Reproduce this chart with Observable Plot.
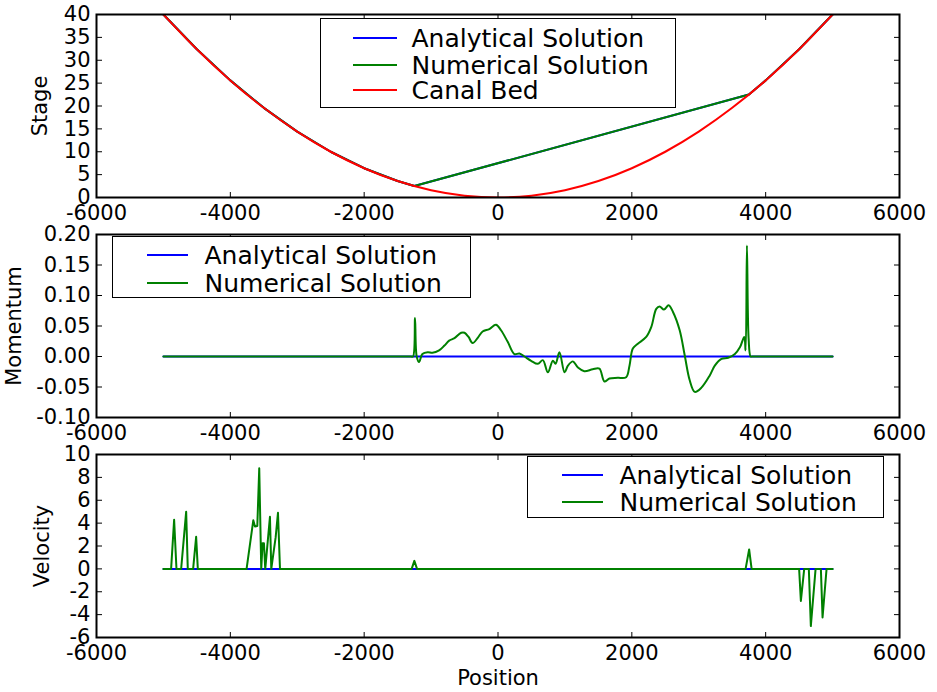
<!DOCTYPE html>
<html>
<head>
<meta charset="utf-8">
<script src="https://cdn.jsdelivr.net/npm/d3@7"></script>
<script src="https://cdn.jsdelivr.net/npm/@observablehq/plot@0.6"></script>
<style>
  html, body { margin: 0; padding: 0; background: white; }
  #chart { position: relative; width: 937px; height: 692px; font-family: "DejaVu Sans", sans-serif; }
  #chart svg { position: absolute; left: 0; overflow: visible; }
  .legend { position: absolute; border: 1.5px solid black; background: white; box-sizing: border-box; }
  .legend .row { position: absolute; height: 30px; display: flex; align-items: center; font-size: 25px; white-space: nowrap; color: black; }
  .legend .sw { position: absolute; height: 2px; }
</style>
</head>
<body>
<div id="chart"></div>
<script>
// ---------- data ----------
const seriesNames = ["Analytical Solution", "Numerical Solution", "Canal Bed"];
const seriesColors = ["#0000ff", "#008000", "#ff0000"];

const xTicks = [-6000, -4000, -2000, 0, 2000, 4000, 6000];
const stageTicks = [0, 5, 10, 15, 20, 25, 30, 35, 40];
const momTicks = [-0.10, -0.05, 0.00, 0.05, 0.10, 0.15, 0.20];
const velTicks = [-6, -4, -2, 0, 2, 4, 6, 8, 10];

// Canal bed
const bedX = [-5000,-4500,-4000,-3500,-3000,-2500,-2000,-1500,-1000,-500,0,500,1000,1500,2000,2500,3000,3500,4000,4500,5000];
const bedY = [40,32.4,25.6,19.6,14.4,10,6.4,3.6,1.6,0.4,0,0.4,1.6,3.6,6.4,10,14.4,19.6,25.6,32.4,40];

// Stage
const stageX   = [-5000,-4500,-4000,-3500,-3000,-2500,-2000,-1500,-1250,3750,4000,4500,5000];
const stageAna = [40,32.4,25.6,19.6,14.4,10,6.4,3.6,2.5,22.5,25.6,32.4,40];
const stageNum = [40,32.4,25.6,19.6,14.4,10,6.4,3.6,2.5,22.5,25.6,32.4,40];

// Momentum
const momAnaX = [-5000, 5000];
const momAna  = [0, 0];
const momNumX = [-5000,-1300,-1270,-1240,-1215,-1180,-1130,-1050,-980,-880,-800,-730,-650,-550,-500,-440,-380,-300,-230,-130,-30,45,145,245,320,395,495,595,670,745,820,860,918,995,1045,1120,1195,1290,1415,1515,1590,1665,1790,1915,1965,2015,2090,2215,2290,2365,2415,2480,2550,2615,2715,2790,2865,2940,3040,3165,3240,3340,3440,3540,3615,3680,3700,3720,3745,3775,3800,5000];
const momNum  = [0,0,0,0.063,0,-0.009,0.004,0.007,0.006,0.010,0.018,0.026,0.030,0.039,0.039,0.032,0.022,0.031,0.041,0.045,0.052,0.043,0.024,0.004,0.005,0,-0.007,-0.012,-0.006,-0.026,-0.007,-0.012,0.007,-0.026,-0.015,-0.008,-0.018,-0.024,-0.021,-0.020,-0.041,-0.036,-0.035,-0.034,-0.015,0.013,0.021,0.032,0.048,0.078,0.082,0.077,0.084,0.073,0.043,0.002,-0.039,-0.058,-0.051,-0.031,-0.015,-0.004,-0.002,0.004,0.015,0.032,0.010,0.182,0.030,0,0,0];

// Velocity
const velAnaX = [-5000, 5000];
const velAna  = [0, 0];
const velNumX = [-5000,-4885,-4840,-4805,-4735,-4660,-4636,-4556,-4511,-4486,-3757,-3657,-3632,-3597,-3568,-3538,-3518,-3498,-3478,-3408,-3388,-3323,-3288,-3258,-1290,-1250,-1210,3700,3753,3790,4500,4526,4576,4645,4675,4746,4825,4850,4910,5000];
const velNum  = [0,0,4.3,0,0,5.0,0,0,2.8,0,0,4.25,3.7,3.75,8.8,0,2.25,2.25,0,4.55,0,2.75,4.9,0,0,0.7,0,0,1.7,0,0,-2.8,0,0,-5.0,0,0,-4.25,0,0];

// ---------- helpers ----------
const zip = (xs, ys) => xs.map((x, i) => ({x, y: ys[i]}));
const fmtInt = d => String(d);
const fmt2 = d => d.toFixed(2);
const LW = 2;

function panel({height, marginBottom, yDomain, yTicks, yFmt, yLabel, yLabelOffset, xLabel, lines}) {
  const marks = lines.map(l => Plot.line(zip(l.xs, l.ys), {x: "x", y: "y", stroke: l.color, strokeWidth: LW, curve: l.curve || "linear", clip: true}));
  marks.push(
    Plot.axisX({ticks: xTicks, tickFormat: fmtInt, tickSize: -5, tickPadding: 13,
      label: xLabel || null, labelAnchor: "center", labelOffset: 47, labelArrow: "none"}),
    Plot.axisX({anchor: "top", ticks: xTicks, tickFormat: () => "", tickSize: -5, label: null}),
    Plot.axisY({ticks: yTicks, tickFormat: yFmt, tickSize: -6, tickPadding: 12,
      label: yLabel, labelAnchor: "center", labelOffset: yLabelOffset, labelArrow: "none"}),
    Plot.axisY({anchor: "right", ticks: yTicks, tickFormat: () => "", tickSize: -6, label: null}),
    Plot.frame({stroke: "black", strokeWidth: 2})
  );
  return Plot.plot({
    width: 937, height,
    marginLeft: 96, marginRight: 38, marginTop: 14, marginBottom,
    style: {fontFamily: "'DejaVu Sans', sans-serif", fontSize: "21px", color: "black", background: "transparent", overflow: "visible"},
    x: {domain: [-6000, 6000]},
    y: {domain: yDomain},
    marks
  });
}

function legend(container, {left, top, width, height, swLeft, swWidth, textLeft, rows}) {
  const box = document.createElement("div");
  box.className = "legend";
  Object.assign(box.style, {left: left + "px", top: top + "px", width: width + "px", height: height + "px"});
  rows.forEach(r => {
    const sw = document.createElement("div");
    sw.className = "sw";
    Object.assign(sw.style, {left: (swLeft - left - 1.5) + "px", top: (r.cy - top - 2.5) + "px", width: swWidth + "px", background: r.color});
    box.appendChild(sw);
    const row = document.createElement("div");
    row.className = "row";
    Object.assign(row.style, {left: (textLeft - left - 1.5) + "px", top: (r.cy - top - 16) + "px"});
    row.textContent = r.label;
    box.appendChild(row);
  });
  container.appendChild(box);
}

// ---------- build ----------
const chart = document.getElementById("chart");

const p1 = panel({
  height: 220, marginBottom: 23, yDomain: [0, 40], yTicks: stageTicks, yFmt: fmtInt,
  yLabel: "Stage", yLabelOffset: 64,
  lines: [
    {xs: stageX, ys: stageAna, color: seriesColors[0]},
    {xs: stageX, ys: stageNum, color: seriesColors[1]},
    {xs: bedX, ys: bedY, color: seriesColors[2], curve: "natural"}
  ]
});
p1.style.top = "0px";
chart.appendChild(p1);

const p2 = panel({
  height: 220, marginBottom: 23, yDomain: [-0.1, 0.2], yTicks: momTicks, yFmt: fmt2,
  yLabel: "Momentum", yLabelOffset: 90,
  lines: [
    {xs: momAnaX, ys: momAna, color: seriesColors[0]},
    {xs: momNumX, ys: momNum, color: seriesColors[1], curve: "catmull-rom"}
  ]
});
p2.style.top = "220px";
chart.appendChild(p2);

const p3 = panel({
  height: 252, marginBottom: 55, yDomain: [-6, 10], yTicks: velTicks, yFmt: fmtInt,
  yLabel: "Velocity", yLabelOffset: 62, xLabel: "Position",
  lines: [
    {xs: velAnaX, ys: velAna, color: seriesColors[0]},
    {xs: velNumX, ys: velNum, color: seriesColors[1]}
  ]
});
p3.style.top = "440px";
chart.appendChild(p3);

legend(chart, {left: 320, top: 18, width: 356, height: 90, swLeft: 353, swWidth: 44, textLeft: 412,
  rows: [0, 1, 2].map((i, k) => ({label: seriesNames[i], color: seriesColors[i], cy: [38, 65, 90][k]}))});
legend(chart, {left: 112, top: 236, width: 359, height: 62, swLeft: 147, swWidth: 41, textLeft: 205,
  rows: [0, 1].map((i, k) => ({label: seriesNames[i], color: seriesColors[i], cy: [255, 283][k]}))});
legend(chart, {left: 527, top: 456, width: 357, height: 62, swLeft: 562, swWidth: 41, textLeft: 620,
  rows: [0, 1].map((i, k) => ({label: seriesNames[i], color: seriesColors[i], cy: [475, 502][k]}))});
</script>
</body>
</html>
